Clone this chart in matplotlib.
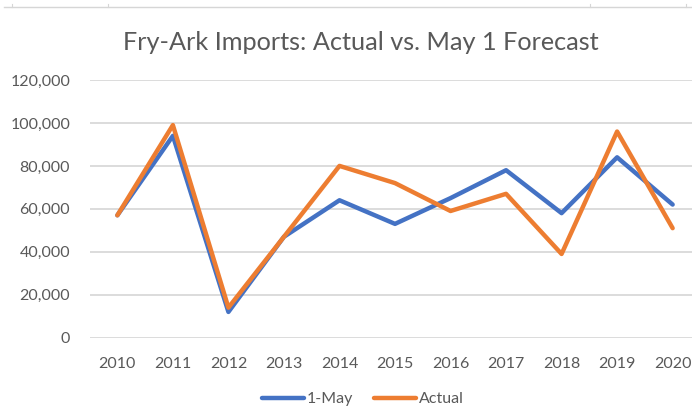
import matplotlib
matplotlib.use("Agg")
import matplotlib.pyplot as plt
from matplotlib.lines import Line2D
from matplotlib.ticker import FuncFormatter

years = [2010, 2011, 2012, 2013, 2014, 2015, 2016, 2017, 2018, 2019, 2020]
forecast_may1 = [57000, 94000, 12000, 47000, 64000, 53000, 65000, 78000, 58000, 84000, 62000]
actual = [57000, 99000, 14000, 47000, 80000, 72000, 59000, 67000, 39000, 96000, 51000]
y_ticks = [0, 20000, 40000, 60000, 80000, 100000, 120000]

BLUE = "#4472C4"
ORANGE = "#ED7D31"
TEXT = "#595959"
GRID = "#D9D9D9"

plt.rcParams["font.family"] = ["Lato", "DejaVu Sans"]

W, H = 692, 409
fig = plt.figure(figsize=(W / 100, H / 100), dpi=100)
fig.patch.set_facecolor("white")

# plot area in pixel terms
left_px, right_px = 89.6, 700.4
top_px, bottom_px = 80.0, 337.7
ax = fig.add_axes([left_px / W, 1 - bottom_px / H,
                   (right_px - left_px) / W, (bottom_px - top_px) / H])
ax.set_facecolor("none")

x = list(range(len(years)))
ax.plot(x, forecast_may1, color=BLUE, lw=3.2, solid_capstyle="round",
        solid_joinstyle="round", zorder=3, clip_on=False)
ax.plot(x, actual, color=ORANGE, lw=3.2, solid_capstyle="round",
        solid_joinstyle="round", zorder=4, clip_on=False)

ax.set_xlim(-0.5, len(years) - 0.5)
ax.set_ylim(0, 120000)
ax.set_yticks(y_ticks)
ax.yaxis.set_major_formatter(FuncFormatter(lambda v, p: f"{int(v):,}"))
ax.set_xticks(x)
ax.set_xticklabels([str(y) for y in years])
ax.grid(axis="y", color=GRID, lw=1.3)
ax.set_axisbelow(True)
for s in ax.spines.values():
    s.set_visible(False)
ax.tick_params(axis="both", length=0, labelsize=11.5, labelcolor=TEXT)
ax.tick_params(axis="x", pad=14)
ax.tick_params(axis="y", pad=14)

fig.text(361 / W, 1 - 42 / H, "Fry-Ark Imports: Actual vs. May 1 Forecast",
         ha="center", va="center", fontsize=18.2, color=TEXT)

# legend at the bottom
handles = [Line2D([], [], color=BLUE, lw=3.2, solid_capstyle="round"),
           Line2D([], [], color=ORANGE, lw=3.2, solid_capstyle="round")]
fig.legend(handles, ["1-May", "Actual"], loc="center", ncol=2,
           bbox_to_anchor=(363 / W, 1 - 399 / H), frameon=False,
           fontsize=11.5, labelcolor=TEXT, handlelength=2.6,
           handletextpad=0.2, columnspacing=1.3)

# sheet cell border along the top edge
fig.add_artist(Line2D([4 / W, 1], [1 - 7 / H, 1 - 7 / H], color="#D6D6D6", lw=1.0))
for px in [12, 108, 590, 686]:
    fig.add_artist(Line2D([px / W, px / W], [1 - 4 / H, 1 - 7 / H], color="#D6D6D6", lw=0.8))

fig.savefig("out.png", dpi=100, facecolor="white")
